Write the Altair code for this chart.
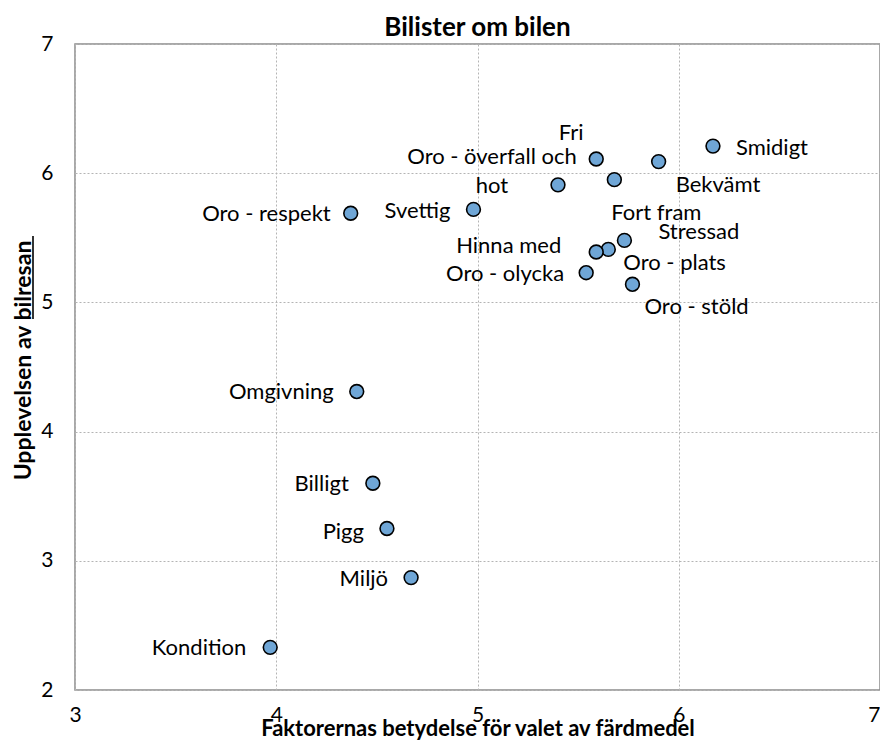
import altair as alt
import pandas as pd

# ---- data ----
labels = ["Smidigt", "Bekvämt", "Fri", "Oro - överfall och\nhot", "Fort fram", "Svettig",
          "Oro - respekt", "Stressad", "Oro - plats", "Hinna med", "Oro - olycka",
          "Oro - stöld", "Omgivning", "Billigt", "Pigg", "Miljö", "Kondition"]
betydelse = [6.17, 5.90, 5.59, 5.40, 5.68, 4.98, 4.37, 5.73, 5.65, 5.59, 5.54,
             5.77, 4.40, 4.48, 4.55, 4.67, 3.97]
upplevelse = [6.21, 6.09, 6.11, 5.91, 5.95, 5.72, 5.69, 5.48, 5.41, 5.39, 5.23,
              5.14, 4.31, 3.60, 3.25, 2.87, 2.33]
x_ticks = [3, 4, 5, 6, 7]
y_ticks = [2, 3, 4, 5, 6, 7]

# label placement (style: alignment and pixel offsets from each point)
label_align = ["left", "left", "center", "center", "left", "right", "right", "left", "left",
               "right", "right", "left", "right", "right", "right", "right", "right"]
label_dx = [23, 17, -25, -66, -3, -23, -20, 34, 15, -35, -22, 12, -23, -24, -23, -23, -24]
label_dy = [2, 23, -26, -28, 33, 2, 1, -8, 14, -6, 1, 23, 0, 1, 3, 1, 1]

df = pd.DataFrame({"label": labels, "x": betydelse, "y": upplevelse})

FONT = "Lato"
W, H = 805, 646

xscale = alt.Scale(domain=[3, 7], nice=False, zero=False)
yscale = alt.Scale(domain=[2, 7], nice=False, zero=False)

base = alt.Chart(df)

points = base.mark_point(
    filled=True, shape="circle", size=190, fill="#6fa6d6", stroke="#000000",
    strokeWidth=1.6, opacity=1
).encode(
    x=alt.X("x:Q", scale=xscale,
            axis=alt.Axis(values=x_ticks, format="d",
                          labelAlign={"condition": {"test": "datum.value == 7", "value": "right"},
                                      "value": "center"},
                          title="Faktorernas betydelse för valet av färdmedel",
                          titleY=28, titleBaseline="top", titleFontSize=22)),
    y=alt.Y("y:Q", scale=yscale,
            axis=alt.Axis(values=y_ticks, format="d", title="Upplevelsen av bilresan",
                          titleX=-52, titleY=316, titleAngle=270, titleAlign="center",
                          titleBaseline="middle")),
)

# underline of the word "bilresan" in the y-axis title
underline = alt.Chart(alt.Data(values=[{"u": 0}])).mark_rule(
    color="#000000", strokeWidth=1.6
).encode(x=alt.value(-42), y=alt.value(192), y2=alt.value(275))

text_layers = []
for i, lab in enumerate(labels):
    t = base.transform_filter(alt.datum.label == lab).mark_text(
        align=label_align[i], baseline="middle", dx=label_dx[i], dy=label_dy[i],
        font=FONT, fontSize=22, color="#000000", lineBreak="\n", lineHeight=29
    ).encode(x=alt.X("x:Q", scale=xscale), y=alt.Y("y:Q", scale=yscale), text="label:N")
    text_layers.append(t)

chart = alt.layer(points, underline, *text_layers).properties(
    width=W, height=H,
    title=alt.TitleParams("Bilister om bilen", font=FONT, fontSize=26, fontWeight="bold",
                          color="#000000", anchor="middle", frame="group",
                          baseline="alphabetic", offset=0, dy=29),
    autosize=alt.AutoSizeParams(type="none"),
    padding={"left": 67, "top": 36, "right": 0, "bottom": 52},
).configure_view(
    stroke="#8c8c8c", strokeWidth=1.5
).configure_axis(
    domain=False, ticks=False,
    grid=True, gridColor="#b4b4b4", gridDash=[2, 2], gridWidth=1,
    labelFont=FONT, labelFontSize=21, labelColor="#000000",
    titleFont=FONT, titleFontSize=23, titleFontWeight="bold", titleColor="#000000",
).configure_axisX(
    labelPadding=14
).configure_axisY(
    labelPadding=22
)

chart.save("out.html", embed_options={"renderer": "svg", "actions": False})
